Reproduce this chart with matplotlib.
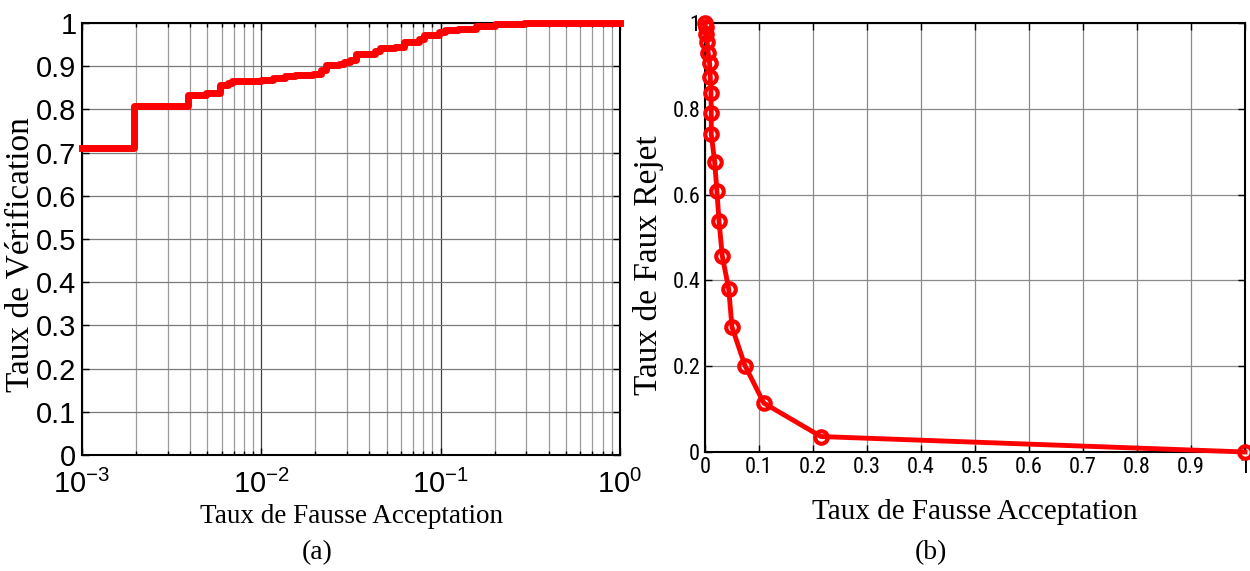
import matplotlib
matplotlib.use('Agg')
import numpy as np
import matplotlib.pyplot as plt
import matplotlib.ticker as ticker
from matplotlib import font_manager as fm

# (a) verification rate vs false acceptance rate (log x), step curve
far_a = [1e-3, 1.96e-3, 2.8e-3, 3.9e-3, 4.9e-3, 5.9e-3, 6.5e-3, 6.9e-3, 1.0e-2,
         1.16e-2, 1.35e-2, 1.54e-2, 1.95e-2, 2.14e-2, 2.3e-2, 2.72e-2, 2.9e-2,
         3.14e-2, 3.38e-2, 4.29e-2, 4.59e-2, 5.56e-2, 6.22e-2, 7.57e-2, 8.12e-2,
         9.82e-2, 0.106, 0.125, 0.158, 0.2, 0.29, 1.0]
ver_a = [0.711, 0.807, 0.808, 0.833, 0.837, 0.856, 0.862, 0.866, 0.869,
         0.873, 0.877, 0.880, 0.882, 0.892, 0.903, 0.906, 0.910,
         0.915, 0.928, 0.934, 0.942, 0.944, 0.955, 0.963, 0.973,
         0.978, 0.983, 0.986, 0.992, 0.997, 1.0, 1.0]

# (b) false rejection rate vs false acceptance rate
far_b = [0.0, 0.001, 0.002, 0.004, 0.006, 0.0085, 0.0098, 0.011, 0.0116, 0.0116,
         0.018, 0.022, 0.026, 0.032, 0.044, 0.050, 0.074, 0.109, 0.215, 1.0]
frr_b = [1.0, 0.99, 0.975, 0.955, 0.93, 0.907, 0.873, 0.838, 0.791, 0.741,
         0.675, 0.609, 0.538, 0.457, 0.379, 0.291, 0.2015, 0.114, 0.036, 0.0]

yticks_a = np.round(np.arange(0, 1.01, 0.1), 1)
ytick_labels_a = ['0', '0.1', '0.2', '0.3', '0.4', '0.5', '0.6', '0.7', '0.8', '0.9', '1']
xticks_a = [1e-3, 1e-2, 1e-1, 1e0]
xtick_labels_a = [r'$\mathregular{10^{-3}}$', r'$\mathregular{10^{-2}}$',
                  r'$\mathregular{10^{-1}}$', r'$\mathregular{10^{0}}$']
xticks_b = np.round(np.arange(0, 1.01, 0.1), 1)
xtick_labels_b = ['0', '0.1', '0.2', '0.3', '0.4', '0.5', '0.6', '0.7', '0.8', '0.9', '1']
yticks_b = np.round(np.arange(0, 1.01, 0.2), 1)
ytick_labels_b = ['0', '0.2', '0.4', '0.6', '0.8', '1']

plt.rcParams['mathtext.fontset'] = 'custom'
plt.rcParams['mathtext.rm'] = 'Liberation Sans'
plt.rcParams['mathtext.it'] = 'Liberation Sans'


def pick_narrow():
    # try a condensed sans for the MATLAB-like tick labels of (b)
    for fam in ['Liberation Sans Narrow', 'Roboto Condensed', 'Open Sans Condensed']:
        try:
            fm.findfont(fam, fallback_to_default=False)
            return fm.FontProperties(family=fam)
        except Exception:
            pass
    fp = fm.FontProperties(family='DejaVu Sans', stretch='condensed')
    if 'Condensed' in fm.findfont(fp):
        return fp
    return fm.FontProperties(family='Liberation Sans')


narrow = pick_narrow()
serif = 'Liberation Serif'
red = '#ff0000'

fig = plt.figure(figsize=(12.5, 5.71), dpi=100)

# ---- (a) ----
ax1 = fig.add_axes([0.0656, 0.2032, 0.4304, 0.7566])
ax1.plot(far_a, ver_a, drawstyle='steps-post', color=red, lw=5, clip_on=False, zorder=3)
ax1.set_xscale('log')
ax1.set_xlim(1e-3, 1)
ax1.set_ylim(0, 1)
ax1.set_yticks(yticks_a, ytick_labels_a)
ax1.set_xticks(xticks_a, xtick_labels_a)
ax1.xaxis.set_minor_locator(ticker.LogLocator(base=10, subs=np.arange(2, 10), numticks=20))
ax1.xaxis.set_minor_formatter(ticker.NullFormatter())
ax1.grid(True, which='major', axis='x', color='#404040', lw=0.9)
ax1.grid(True, which='minor', axis='x', color='#9a9a9a', lw=0.9)
ax1.grid(True, which='major', axis='y', color='#7a7a7a', lw=0.9)
ax1.tick_params(which='both', direction='in', top=True, right=True, width=1)
ax1.tick_params(which='major', length=5)
ax1.tick_params(which='minor', length=3)
ax1.tick_params(axis='y', labelsize=21, pad=4)
ax1.tick_params(axis='x', labelsize=21, pad=11)
for lab in ax1.get_yticklabels() + ax1.get_xticklabels():
    lab.set_fontfamily('Liberation Sans')
for s in ax1.spines.values():
    s.set_linewidth(1.5)
ax1.set_xlabel('Taux de Fausse Acceptation', fontfamily=serif, fontsize=19.5, va='center')
ax1.xaxis.set_label_coords(0.5, -0.143)
ax1.set_ylabel('Taux de Vérification', fontfamily=serif, fontsize=24)
ax1.yaxis.set_label_coords(-0.087, 0.463)

# ---- (b) ----
ax2 = fig.add_axes([0.564, 0.2084, 0.432, 0.7513])
ax2.plot(far_b, frr_b, color=red, lw=3.5, marker='o', ms=9, mfc='none', mec=red,
         mew=3, clip_on=False, zorder=3)
ax2.set_xlim(0, 1)
ax2.set_ylim(0, 1)
ax2.set_xticks(xticks_b, xtick_labels_b)
ax2.set_yticks(yticks_b, ytick_labels_b)
ax2.grid(True, color='#8a8a8a', lw=0.9)
ax2.tick_params(direction='in', top=True, right=True, length=5, width=1, labelsize=16)
for lab in ax2.get_yticklabels() + ax2.get_xticklabels():
    lab.set_fontproperties(narrow)
    lab.set_fontsize(16)
for s in ax2.spines.values():
    s.set_linewidth(1.5)
ax2.set_xlabel('Taux de Fausse Acceptation', fontfamily=serif, fontsize=21, va='center')
ax2.xaxis.set_label_coords(0.5, -0.140)
ax2.set_ylabel('Taux de Faux Rejet', fontfamily=serif, fontsize=24)
ax2.yaxis.set_label_coords(-0.076, 0.436)

fig.text(0.2536, 0.0315, '(a)', fontfamily=serif, fontsize=20, ha='center', va='center')
fig.text(0.745, 0.0315, '(b)', fontfamily=serif, fontsize=20, ha='center', va='center')

fig.savefig('out.png', dpi=100)
